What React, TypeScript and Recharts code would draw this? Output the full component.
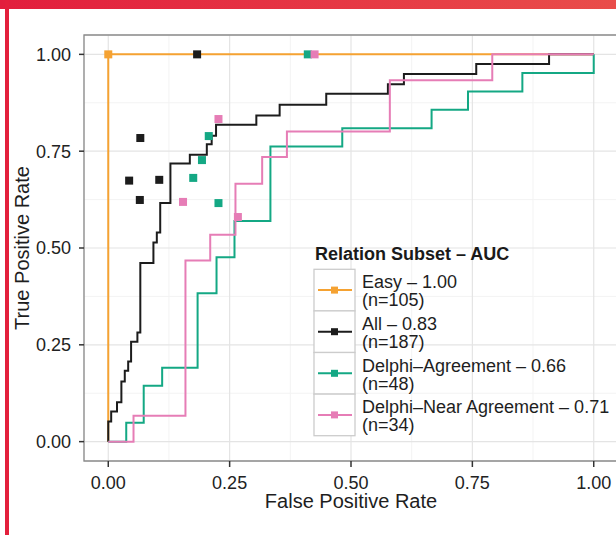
import {
  CartesianGrid,
  ComposedChart,
  Legend,
  Line,
  ReferenceArea,
  Scatter,
  XAxis,
  YAxis,
} from "recharts";

const subsets = ["Easy", "All", "Delphi–Agreement", "Delphi–Near Agreement"];
const aucs = [1.0, 0.83, 0.66, 0.71];
const counts = [105, 187, 48, 34];
const colors = ["#f5a232", "#1c1c1c", "#14a884", "#e67db6"];

// ROC steps (vertical first, then horizontal to the next fpr)
const easyFpr = [0, 1];
const easyTpr = [0, 1];

const allFpr = [
  0, 0.006, 0.018, 0.027, 0.034, 0.041, 0.047, 0.06, 0.066, 0.093, 0.1, 0.107,
  0.128, 0.168, 0.203, 0.213, 0.222, 0.305, 0.353, 0.449, 0.576, 0.609, 0.758,
  0.908, 1.0,
];
const allTpr = [
  0, 0.052, 0.078, 0.102, 0.155, 0.183, 0.207, 0.258, 0.282, 0.461, 0.514,
  0.54, 0.616, 0.718, 0.741, 0.768, 0.79, 0.818, 0.842, 0.87, 0.898, 0.923,
  0.949, 0.975, 1.0,
];

const agreeFpr = [
  0, 0.037, 0.073, 0.111, 0.184, 0.223, 0.26, 0.334, 0.482, 0.666, 0.741,
  0.853, 1.0, 1.0,
];
const agreeTpr = [
  0, 0, 0.049, 0.144, 0.191, 0.383, 0.476, 0.57, 0.762, 0.809, 0.857, 0.904,
  0.952, 1.0,
];

const nearFpr = [0, 0.052, 0.159, 0.21, 0.262, 0.317, 0.368, 0.58, 0.791, 1.0];
const nearTpr = [0, 0, 0.067, 0.468, 0.534, 0.666, 0.735, 0.801, 0.933, 1.0];

// single operating points
const easyPtFpr = [0];
const easyPtTpr = [1];
const allPtFpr = [0.183, 0.066, 0.043, 0.105, 0.065];
const allPtTpr = [1.0, 0.784, 0.674, 0.676, 0.624];
const agreePtFpr = [0.411, 0.207, 0.193, 0.175, 0.227];
const agreePtTpr = [1.0, 0.789, 0.727, 0.681, 0.616];
const nearPtFpr = [0.425, 0.227, 0.154, 0.267];
const nearPtTpr = [1.0, 0.833, 0.619, 0.58];

const majorTicks = [0, 0.25, 0.5, 0.75, 1];
const minorTicks = [0.125, 0.375, 0.625, 0.875];

const toPoints = (xs: number[], ys: number[]) =>
  xs.map((x, i) => ({ x, y: ys[i] }));

const curves = [
  toPoints(easyFpr, easyTpr),
  toPoints(allFpr, allTpr),
  toPoints(agreeFpr, agreeTpr),
  toPoints(nearFpr, nearTpr),
];
const points = [
  toPoints(easyPtFpr, easyPtTpr),
  toPoints(allPtFpr, allPtTpr),
  toPoints(agreePtFpr, agreePtTpr),
  toPoints(nearPtFpr, nearPtTpr),
];

const font = '"Liberation Sans", Arial, Helvetica, sans-serif';

const square = (p: any) => (
  <rect x={p.cx - 4} y={p.cy - 4} width={8} height={8} fill={p.fill} />
);

function LegendBox() {
  const rowH = 41.6;
  return (
    <svg width={320} height={210} style={{ fontFamily: font }}>
      <text x={15} y={22} fontSize={18} fontWeight="bold" fill="#1a1a1a">
        Relation Subset – AUC
      </text>
      {subsets.map((s, i) => {
        const top = 31.3 + i * rowH;
        const mid = top + rowH / 2;
        return (
          <g key={s}>
            <rect
              x={14}
              y={top}
              width={41}
              height={rowH}
              fill="#fff"
              stroke="#cccccc"
              strokeWidth={1.3}
            />
            <line x1={18} x2={52} y1={mid} y2={mid} stroke={colors[i]} strokeWidth={2} />
            <rect x={31} y={mid - 3.5} width={7} height={7} fill={colors[i]} />
            <text x={62} y={top + 19} fontSize={18} fill="#1e1e1e">
              {`${s} – ${aucs[i].toFixed(2)}`}
            </text>
            <text x={62} y={top + 37} fontSize={18} fill="#1e1e1e">
              {`(n=${counts[i]})`}
            </text>
          </g>
        );
      })}
    </svg>
  );
}

export default function App() {
  const tickStyle = { fontSize: 18, fill: "#222", fontFamily: font };
  return (
    <div
      style={{
        position: "absolute",
        left: 0,
        top: 0,
        width: 616,
        height: 535,
        overflow: "hidden",
        background: "#fff",
        fontFamily: font,
      }}
    >
      <div style={{ position: "absolute", left: 0, top: 0 }}>
        <ComposedChart
          width={640}
          height={535}
          margin={{ top: 35, right: 22, bottom: 0, left: 0 }}
        >
          <CartesianGrid
            stroke="#f3f3f3"
            strokeWidth={1}
            verticalValues={minorTicks}
            horizontalValues={minorTicks}
          />
          <CartesianGrid stroke="#e4e4e4" strokeWidth={1.2} />
          <XAxis
            type="number"
            dataKey="x"
            domain={[-0.05, 1.05]}
            ticks={majorTicks}
            tickFormatter={(v: number) => v.toFixed(2)}
            allowDataOverflow
            axisLine={false}
            tickLine={{ stroke: "#333", strokeWidth: 1.5 }}
            tickSize={6}
            tickMargin={9}
            tick={tickStyle}
            height={74}
            label={{
              value: "False Positive Rate",
              position: "insideBottom",
              offset: 27,
              fontSize: 20,
              fill: "#1e1e1e",
              fontFamily: font,
            }}
          />
          <YAxis
            type="number"
            dataKey="y"
            domain={[-0.05, 1.05]}
            ticks={majorTicks}
            tickFormatter={(v: number) => v.toFixed(2)}
            allowDataOverflow
            axisLine={false}
            tickLine={{ stroke: "#333", strokeWidth: 1.5 }}
            tickSize={5}
            tickMargin={8}
            tick={tickStyle}
            width={84}
            label={{
              value: "True Positive Rate",
              angle: -90,
              position: "insideLeft",
              offset: 22,
              fontSize: 20,
              fill: "#1e1e1e",
              fontFamily: font,
              style: { textAnchor: "middle" },
            }}
          />
          <ReferenceArea
            x1={-0.05}
            x2={1.05}
            y1={-0.05}
            y2={1.05}
            fill="none"
            stroke="#8c8c8c"
            strokeWidth={1.3}
          />
          {curves.map((d, i) => (
            <Line
              key={subsets[i]}
              data={d}
              dataKey="y"
              type="stepBefore"
              stroke={colors[i]}
              strokeWidth={2}
              dot={false}
              activeDot={false}
              isAnimationActive={false}
            />
          ))}
          {points.map((d, i) => (
            <Scatter
              key={`pt-${subsets[i]}`}
              data={d}
              dataKey="y"
              fill={colors[i]}
              shape={square}
              isAnimationActive={false}
            />
          ))}
          <Legend
            layout="horizontal"
            verticalAlign="middle"
            align="center"
            content={() => <LegendBox />}
            wrapperStyle={{ left: 300, top: 238, width: 320, height: 210 }}
          />
        </ComposedChart>
      </div>
      <div
        style={{
          position: "absolute",
          left: 0,
          top: 0,
          width: 616,
          height: 9,
          background: "linear-gradient(90deg, #e21e3d, #e94d4a)",
        }}
      />
      <div
        style={{
          position: "absolute",
          left: 5,
          top: 0,
          width: 4,
          height: 535,
          background: "#e3203c",
        }}
      />
    </div>
  );
}
